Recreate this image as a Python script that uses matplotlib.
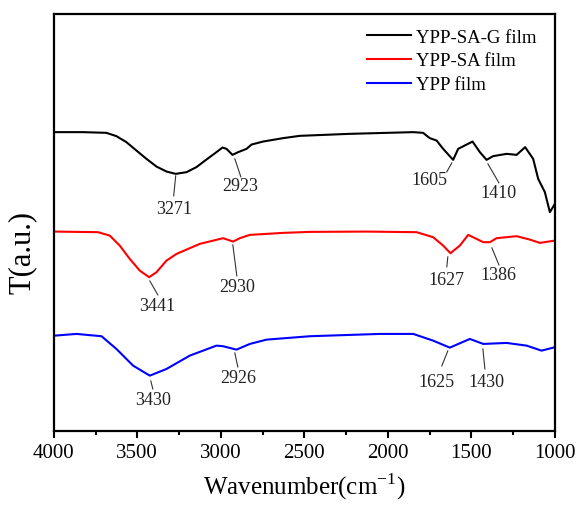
import matplotlib
matplotlib.use('Agg')
import matplotlib.pyplot as plt
from matplotlib.ticker import MultipleLocator

plt.rcParams['font.family'] = 'Liberation Serif'
plt.rcParams['mathtext.fontset'] = 'custom'
plt.rcParams['mathtext.rm'] = 'Liberation Serif'

# ---- datos (numero de onda, transmitancia en u.a.) ----
w_g = [3994, 3824, 3685, 3625, 3565, 3505, 3445, 3385, 3325, 3270, 3205, 3146, 3086, 3026,
       2990, 2966, 2930, 2896, 2846, 2816, 2747, 2627, 2527, 2228, 1848, 1789, 1749, 1708,
       1669, 1609, 1579, 1493, 1449, 1409, 1370, 1289, 1229, 1178, 1130, 1100, 1060, 1030, 1006, 1000]
t_g = [298.7, 298.7, 298, 294.7, 288.7, 280.3, 272, 264.3, 259.3, 257, 258.7, 263.7, 271.3, 278.7,
       283.3, 282, 276, 278.7, 282, 286.3, 289.3, 292.7, 295, 297, 298.7, 298, 292.7, 290.3,
       282, 271, 282, 289.3, 278.7, 271, 274.7, 277, 276, 283.7, 272, 252, 238.7, 218.7, 225.3, 227]

w_sa = [3994, 3735, 3665, 3605, 3545, 3485, 3429, 3385, 3325, 3265, 3126, 2986, 2926, 2886,
        2826, 2627, 2467, 2128, 1828, 1729, 1669, 1625, 1569, 1519, 1469, 1429, 1389, 1349,
        1229, 1150, 1090, 1000]
t_sa = [199.3, 198.7, 195.3, 185.3, 172, 160.3, 153.7, 158.7, 170.3, 177, 187, 192.7, 189.3, 192.7,
        196, 198, 199, 199.3, 198.7, 193.7, 185.3, 177.7, 185.3, 196, 192, 188.7, 188.7, 192.7,
        194.7, 191.3, 188, 190.3]

w_ypp = [3994, 3864, 3714, 3625, 3525, 3425, 3325, 3186, 3026, 2986, 2906, 2826, 2726, 2467,
         2048, 1848, 1729, 1629, 1509, 1429, 1289, 1169, 1080, 1000]
t_ypp = [95.3, 97, 94.7, 82, 65.3, 55.3, 62, 75.3, 85.3, 84.7, 81.3, 87, 91.3, 94.7,
         97, 97, 90.3, 83.3, 92, 87, 88, 85.3, 80.3, 83.7]

series = ['YPP-SA-G film', 'YPP-SA film', 'YPP film']
colores = ['black', 'red', 'blue']

# picos marcados: etiqueta, inicio y fin de la linea guia, posicion del texto
picos = [
    ('3271', (3270, 255), (3282, 235), (3281, 222)),
    ('2923', (2916, 272), (2880, 254), (2886, 245)),
    ('1605', (1617, 268), (1647, 259), (1749, 251)),
    ('1410', (1401, 267), (1335, 248), (1335, 238)),
    ('3441', (3425, 150), (3377, 136), (3383, 125)),
    ('2930', (2928, 186), (2904, 155), (2904, 144)),
    ('1627', (1641, 174), (1647, 164), (1647, 151)),
    ('1386', (1377, 183), (1335, 166), (1341, 156)),
    ('3430', (3419, 50), (3407, 42), (3407, 31)),
    ('2926', (2916, 78), (2898, 64), (2898, 53)),
    ('1625', (1641, 80), (1677, 65), (1707, 49)),
    ('1430', (1431, 82), (1419, 62), (1407, 49)),
]

fig = plt.figure(figsize=(5.78, 5.10), dpi=100)
ax = fig.add_axes([0.093, 0.153, 0.867, 0.818])

for w, t, nombre, c in zip([w_g, w_sa, w_ypp], [t_g, t_sa, t_ypp], series, colores):
    ax.plot(w, t, color=c, lw=1.5, label=nombre)

for etiqueta, p0, p1, pt in picos:
    ax.plot([p0[0], p1[0]], [p0[1], p1[1]], color='#333333', lw=0.8)
    ax.text(pt[0], pt[1], etiqueta, ha='center', va='center', fontsize=13, color='#222222')

ax.set_xlim(4000, 1000)
ax.set_ylim(0, 417)
ax.xaxis.set_major_locator(MultipleLocator(500))
ax.xaxis.set_minor_locator(MultipleLocator(250))
ax.tick_params(axis='x', which='major', length=5, width=1.5, direction='out', labelsize=15, pad=4)
ax.tick_params(axis='x', which='minor', length=3, width=1.5, direction='out')
ax.set_yticks([])
for s in ax.spines.values():
    s.set_linewidth(1.6)

ax.set_xlabel('Wavenumber(cm$^{-1}$)', fontsize=18, labelpad=6)
ax.set_ylabel('T(a.u.)', fontsize=22)
ax.yaxis.set_label_coords(-0.034, 0.43)

ax.legend(loc='upper left', bbox_to_anchor=(0.625, 0.965), frameon=False, fontsize=13.5,
          handlelength=2.35, handletextpad=0.27, labelspacing=0.36, borderpad=0, borderaxespad=0)

fig.savefig('out.png', dpi=100)
